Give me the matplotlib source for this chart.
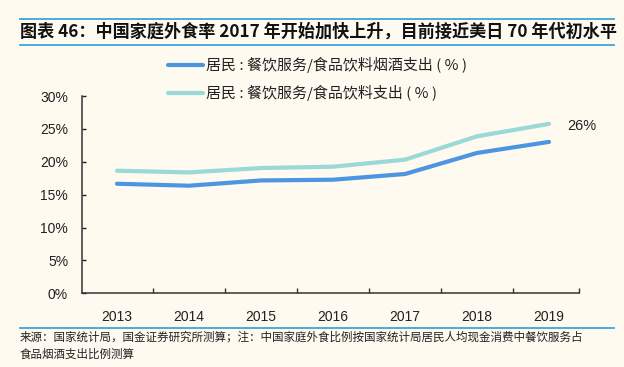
import matplotlib
matplotlib.use("Agg")
import matplotlib.pyplot as plt
from matplotlib.lines import Line2D

plt.rcParams['font.family'] = ['Liberation Sans', 'Noto Sans CJK SC', 'DejaVu Sans']

years = ["2013", "2014", "2015", "2016", "2017", "2018", "2019"]
with_tobacco = [16.66, 16.36, 17.16, 17.27, 18.14, 21.34, 23.02]
food_only = [18.64, 18.38, 19.05, 19.25, 20.32, 23.87, 25.76]
yticks = [0, 5, 10, 15, 20, 25, 30]
label_last = "26%"
series_names = ["居民 : 餐饮服务/食品饮料烟酒支出 ( % )", "居民 : 餐饮服务/食品饮料支出 ( % )"]
title = "图表 46：中国家庭外食率 2017 年开始加快上升，目前接近美日 70 年代初水平"
source = ("来源：国家统计局，国金证券研究所测算；注：中国家庭外食比例按国家统计局居民人均现金消费中餐饮服务占\n"
          "食品烟酒支出比例测算")

BG = "#FEFAF0"
C_DARK = "#4C96E1"
C_LIGHT = "#9AD9D6"
C_RULE = "#3DA5DD"
CJK = ['Noto Sans CJK SC', 'DejaVu Sans']

W, H = 624, 367
fig = plt.figure(figsize=(W / 100, H / 100), dpi=100, facecolor=BG)

ax = fig.add_axes([82 / W, 1 - 293.3 / H, (579 - 82) / W, (293.3 - 96) / H])
ax.set_facecolor(BG)

x = list(range(len(years)))
ax.plot(x, with_tobacco, color=C_DARK, lw=3.0, solid_capstyle='round', solid_joinstyle='round')
ax.plot(x, food_only, color=C_LIGHT, lw=3.0, solid_capstyle='round', solid_joinstyle='round')

left = -(117 - 82) / 72
right = 6 + (579 - 549) / 72
ax.set_xlim(left, right)
ax.set_ylim(0, 30)

ax.set_yticks(yticks)
ax.set_yticklabels([f"{v}%" for v in yticks])
ax.tick_params(axis='y', direction='in', length=3, width=1, pad=10, labelsize=10, colors='#222222')

bounds = [i + 0.5 for i in range(len(years) - 1)] + [right]
ax.set_xticks(bounds)
ax.set_xticklabels([])
ax.tick_params(axis='x', which='major', direction='in', length=3.5, width=1, colors='#333333')
ax.set_xticks(x, minor=True)
ax.set_xticklabels(years, minor=True)
ax.tick_params(axis='x', which='minor', length=0, pad=12, labelsize=10, labelcolor='#222222')

for s in ['top', 'right']:
    ax.spines[s].set_visible(False)
for s in ['left', 'bottom']:
    ax.spines[s].set_color('#333333')
    ax.spines[s].set_linewidth(1.1)

ax.annotate(label_last, xy=(x[-1], food_only[-1]), xytext=(13.5, -1.8), textcoords='offset points',
            ha='left', va='center', fontsize=10.5, color='#222222')

handles = [Line2D([], [], color=C_DARK, lw=3.0, solid_capstyle='round'),
           Line2D([], [], color=C_LIGHT, lw=3.0, solid_capstyle='round')]
leg = fig.legend(handles, series_names, loc='upper left', bbox_to_anchor=(168 / W, 1 - 57 / H),
                 frameon=False, handlelength=2.3, handletextpad=0.25, labelspacing=0.8,
                 prop={'family': CJK, 'size': 10.8}, borderaxespad=0, borderpad=0)
for t in leg.get_texts():
    t.set_color('#222222')

# title rules
fig.add_artist(Line2D([20 / W, 614 / W], [1 - 18.5 / H, 1 - 18.5 / H], color=C_RULE, lw=1.3))
fig.add_artist(Line2D([20 / W, 614 / W], [1 - 44.5 / H, 1 - 44.5 / H], color=C_RULE, lw=1.3))
fig.add_artist(Line2D([20 / W, 614 / W], [1 - 327.5 / H, 1 - 327.5 / H], color=C_RULE, lw=1.3))

fig.text(20 / W, 1 - 31.5 / H, title, ha='left', va='center', fontsize=12.3, fontweight='bold',
         fontstyle='italic', family=CJK, color='#111111')
fig.text(20 / W, 1 - 330 / H, source, ha='left', va='top', fontsize=8.3, family=CJK,
         color='#222222', linespacing=1.45)

fig.savefig("out.png", dpi=100, facecolor=BG)
